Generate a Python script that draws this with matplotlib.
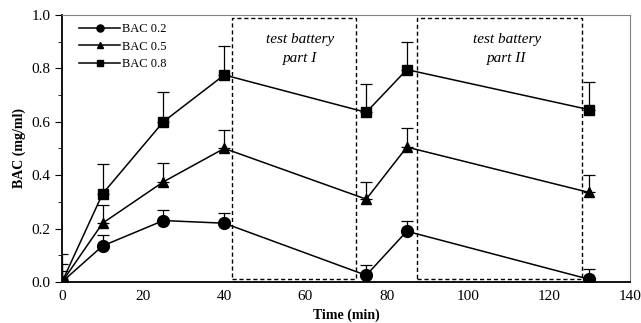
import numpy as np
import matplotlib.pyplot as plt
from matplotlib.patches import Rectangle

plt.rcParams['font.family'] = ['Liberation Serif', 'DejaVu Serif']

time = [0, 10, 25, 40, 75, 85, 130]
bac02 = [0.0, 0.135, 0.23, 0.22, 0.025, 0.19, 0.01]
bac02_err = [0.04, 0.04, 0.04, 0.04, 0.04, 0.04, 0.04]
bac05 = [0.0, 0.22, 0.375, 0.50, 0.31, 0.505, 0.335]
bac05_err = [0.067, 0.07, 0.07, 0.07, 0.065, 0.07, 0.065]
bac08 = [0.0, 0.33, 0.60, 0.775, 0.635, 0.795, 0.645]
bac08_err = [0.105, 0.11, 0.11, 0.11, 0.105, 0.105, 0.105]

series = [("BAC 0.2", bac02, bac02_err, "o", 8.5),
          ("BAC 0.5", bac05, bac05_err, "^", 7.5),
          ("BAC 0.8", bac08, bac08_err, "s", 6.5)]

fig = plt.figure(figsize=(6.41, 3.23), dpi=100)
ax = fig.add_axes([0.0967, 0.127, 0.886, 0.827])

for label, vals, err, m, ms in series:
    ax.errorbar(time, vals, yerr=[np.zeros(len(err)), err], fmt="none",
                ecolor="black", elinewidth=0.9, capsize=4, capthick=0.9)
    ax.plot(time, vals, color="black", lw=1.1, marker=m, markersize=ms,
            label=label)

# dashed test battery boxes
ax.add_patch(Rectangle((42, 0.01), 30.5, 0.98, fill=False, ls=(0, (3, 2)),
                       lw=1.0, ec="black"))
ax.add_patch(Rectangle((87.4, 0.01), 40.8, 0.98, fill=False, ls=(0, (3, 2)),
                       lw=1.0, ec="black"))
ax.text(58.8, 0.873, "test battery\npart I", ha="center", va="center",
        style="italic", fontsize=11, linespacing=1.55)
ax.text(109.6, 0.873, "test battery\npart II", ha="center", va="center",
        style="italic", fontsize=11, linespacing=1.55)

ax.set_xlim(0, 140)
ax.set_ylim(0, 1.0)
ax.set_xticks([0, 20, 40, 60, 80, 100, 120, 140])
ax.set_yticks([0.0, 0.2, 0.4, 0.6, 0.8, 1.0])
ax.set_yticks(np.arange(0.1, 1.0, 0.2), minor=True)
ax.set_yticklabels(["0.0", "0.2", "0.4", "0.6", "0.8", "1.0"])
ax.tick_params(axis="x", length=0, labelsize=11, pad=6)
ax.tick_params(axis="y", which="both", direction="out", labelsize=11)
ax.tick_params(axis="y", which="major", length=5)
ax.tick_params(axis="y", which="minor", length=3)
ax.spines["top"].set_color("gray")
ax.spines["right"].set_color("gray")
ax.spines["left"].set_linewidth(1.3)
ax.spines["bottom"].set_linewidth(1.3)

ax.set_xlabel("Time (min)", fontweight="bold", fontsize=10)
ax.set_ylabel("BAC (mg/ml)", fontweight="bold", fontsize=10)

ax.legend(loc="upper left", frameon=False, fontsize=9, markerscale=0.6,
          handlelength=3.3, handletextpad=0.15, labelspacing=0.42,
          bbox_to_anchor=(0.01, 1.01))

fig.savefig("out.png", dpi=100)
plt.close()
